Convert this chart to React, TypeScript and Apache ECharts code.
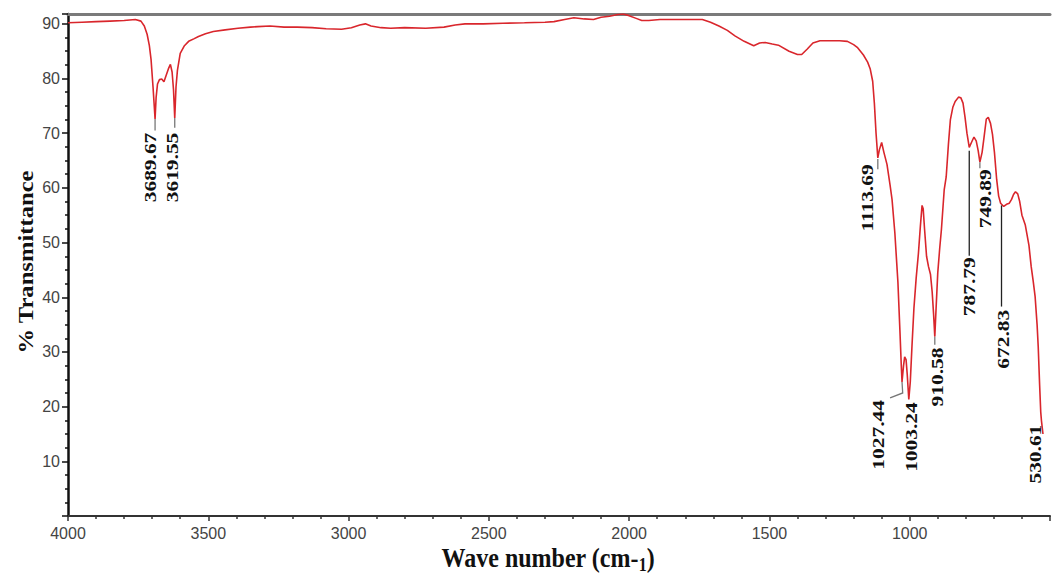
import React, { useEffect, useRef } from 'react';
import * as echarts from 'echarts';

// ---- Spectrum data (wavenumber cm-1, % transmittance) ----
const wavenumbers = [
  4000, 3950, 3900, 3850, 3800, 3760, 3740, 3728, 3718, 3710, 3704, 3697, 3692, 3689.67, 3686, 3681,
  3674, 3666, 3658, 3650, 3642, 3635, 3629, 3624, 3619.55, 3615, 3610, 3600, 3585, 3570, 3550, 3535,
  3510, 3482, 3440, 3394, 3350, 3324, 3280, 3230, 3183, 3130, 3080, 3025, 2990, 2960, 2940, 2920,
  2884, 2850, 2800, 2725, 2660, 2620, 2585, 2520, 2450, 2373, 2300, 2268, 2230, 2197, 2160, 2127,
  2100, 2070, 2040, 2021, 2000, 1975, 1955, 1930, 1890, 1845, 1790, 1739, 1710, 1680, 1650, 1623,
  1590, 1556, 1535, 1515, 1490, 1468, 1430, 1400, 1385, 1365, 1345, 1320, 1280, 1250, 1222, 1200,
  1187, 1165, 1150, 1141, 1132, 1126, 1120, 1113.69, 1108, 1100, 1092, 1081, 1070, 1063, 1053, 1042,
  1035, 1030, 1027.44, 1022, 1018, 1013, 1009, 1003.24, 998, 992, 985, 977, 969, 962, 956, 952,
  947, 940, 933, 926, 920, 915, 910.58, 906, 900, 893, 887, 877, 870, 862, 855, 846,
  838, 826, 818, 810, 803, 796, 787.79, 780, 771, 763, 756, 749.89, 742, 735, 727, 720,
  712, 705, 698, 690, 683, 676, 665, 655, 645, 637, 630, 623, 615, 608, 600, 588,
  575, 567, 560, 553, 546, 542, 537, 533, 530.61, 525,
];
const transmittance = [
  90.2, 90.3, 90.4, 90.5, 90.6, 90.8, 90.5, 89.6, 88.1, 86.0, 83.5, 78.5, 74.5, 72.6, 76.5, 79.0,
  79.8, 79.9, 79.4, 80.6, 81.8, 82.6, 81.2, 78.0, 72.8, 78.5, 81.5, 84.6, 86.0, 86.8, 87.3, 87.7,
  88.2, 88.6, 88.9, 89.2, 89.4, 89.5, 89.6, 89.4, 89.4, 89.3, 89.1, 89.0, 89.3, 89.8, 90.0, 89.6,
  89.3, 89.2, 89.3, 89.2, 89.4, 89.8, 90.0, 90.0, 90.1, 90.2, 90.3, 90.4, 90.8, 91.1, 90.9, 90.8,
  91.2, 91.4, 91.7, 91.8, 91.5, 91.0, 90.6, 90.6, 90.8, 90.8, 90.8, 90.8, 90.3, 89.6, 88.8, 87.8,
  86.8, 86.0, 86.5, 86.6, 86.3, 86.1, 85.0, 84.4, 84.4, 85.4, 86.5, 86.9, 86.9, 86.9, 86.8, 86.2,
  85.7, 84.3, 83.0, 81.8, 79.5, 75.5, 70.0, 65.5, 67.0, 68.3, 66.5, 64.3, 60.5, 57.9, 51.8, 42.7,
  34.0, 27.5, 24.5, 27.5, 29.1, 28.6, 26.0, 21.3, 24.5, 31.0, 38.0, 43.5, 48.0, 53.0, 56.8, 56.2,
  52.4, 47.5, 45.6, 44.2, 41.0, 37.0, 32.8, 38.0, 44.5, 49.0, 52.4, 59.7, 62.0, 68.0, 72.5, 74.8,
  75.8, 76.6, 76.5, 75.5, 73.0, 70.0, 67.4, 68.3, 69.3, 68.6, 66.8, 64.7, 66.5, 69.3, 72.6, 72.9,
  71.8, 69.8, 66.5, 61.5, 58.5, 57.2, 56.6, 57.0, 57.2, 57.9, 58.8, 59.3, 58.9, 57.5, 55.0, 53.2,
  49.5, 45.6, 43.0, 40.1, 35.0, 31.0, 24.0, 19.0, 17.5, 15.0,
];

// ---- Peak annotations ----
const peakLabels = ['3689.67', '3619.55', '1113.69', '1027.44', '1003.24', '910.58', '787.79', '749.89', '672.83', '530.61'];
// leader lines, in data units [wavenumber, %T]
const peakLeaders: number[][][] = [
  [[3689.67, 72.6], [3689.67, 70.5]],
  [[3619.55, 72.8], [3619.55, 71.0]],
  [[1113.69, 65.3], [1113.69, 63.4]],
  [[1027.44, 24.5], [1025, 22.5], [1070, 21.6]],
  [],
  [[910.58, 32.8], [910.58, 31.3]],
  [[787.79, 66.8], [787.79, 47.6]],
  [[749.89, 64.7], [749.89, 63.6]],
  [[672.83, 56.8], [672.83, 38.3]],
  [],
];
// label anchor (top of the rotated text), in data units
const peakLabelAnchors = [
  [3708, 70.1], [3627, 70.1], [1151, 64.3], [1113, 21.2], [993, 20.8],
  [901, 30.8], [789, 47.3], [729, 63.4], [665, 37.7], [553, 16.7],
];

const xMin = 500;
const xMax = 4000;
const yMin = 0;
const yMax = 91.8;

export default function App() {
  const ref = useRef<HTMLDivElement>(null);
  useEffect(() => {
    if (!ref.current) return;
    const chart = echarts.init(ref.current, undefined, { renderer: 'svg' });
    const serif = '"Liberation Serif", "Times New Roman", serif';
    const sans = '"Liberation Sans", Arial, sans-serif';
    const option: any = {
      animation: false,
      backgroundColor: '#ffffff',
      grid: { left: 68, right: -9, top: 14, bottom: 61, containLabel: false },
      xAxis: [
        {
          type: 'value', min: xMin, max: xMax, interval: 500, inverse: true,
          axisLine: { show: true, onZero: false, lineStyle: { color: '#333', width: 2 } },
          axisTick: { show: true, length: 5, lineStyle: { color: '#333', width: 1.5 } },
          minorTick: { show: true, splitNumber: 5, length: 3, lineStyle: { color: '#333', width: 1.5 } },
          splitLine: { show: false },
          axisLabel: {
            color: '#444', fontSize: 16, fontFamily: sans, margin: 9,
            formatter: (v: number) => (v < 1000 ? '' : String(v)),
          },
        },
        {
          type: 'value', position: 'top', min: xMin, max: xMax, inverse: true,
          axisLine: { show: true, onZero: false, lineStyle: { color: '#7a7a7a', width: 3 } },
          axisTick: { show: false }, axisLabel: { show: false }, splitLine: { show: false },
        },
      ],
      yAxis: {
        type: 'value', min: yMin, max: yMax, interval: 10,
        axisLine: { show: true, onZero: false, lineStyle: { color: '#111', width: 2.5 } },
        axisTick: { show: true, length: 6, lineStyle: { color: '#111', width: 1.5 } },
        minorTick: { show: true, splitNumber: 4, length: 3, lineStyle: { color: '#111', width: 1.5 } },
        splitLine: { show: false },
        axisLabel: {
          color: '#444', fontSize: 16, fontFamily: sans, margin: 8,
          formatter: (v: number) => (v > 0 && Math.abs(v % 10) < 1e-6 ? String(v) : ''),
        },
      },
      graphic: [
        {
          type: 'text', x: 25, y: 262, rotation: Math.PI / 2, scaleX: 1.12,
          style: { text: '% Transmittance', font: `bold 22px ${serif}`, fill: '#111', align: 'center', verticalAlign: 'middle' },
        },
        {
          type: 'text', x: 548, y: 558, scaleY: 1.15,
          style: {
            text: '{a|Wave number (cm-}{b|1}{a|)}',
            align: 'center', verticalAlign: 'middle',
            rich: {
              a: { fontSize: 24, fontWeight: 'bold', fontFamily: serif, fill: '#111', lineHeight: 28 },
              b: { fontSize: 16, fontWeight: 'bold', fontFamily: serif, fill: '#111', lineHeight: 24, verticalAlign: 'bottom' },
            },
          },
        },
      ],
      series: [
        {
          type: 'line',
          data: wavenumbers.map((w, i) => [w, transmittance[i]]),
          showSymbol: false, symbol: 'none',
          lineStyle: { color: '#d9262c', width: 1.6 },
          clip: true, z: 2, silent: true,
        },
        {
          type: 'custom',
          silent: true, z: 3,
          data: peakLabelAnchors.map((a, i) => [a[0], a[1], i]),
          renderItem: (_params: any, api: any) => {
            const i = api.value(2) as number;
            const children: any[] = [];
            const leader = peakLeaders[i];
            if (leader.length >= 2) {
              const span = Math.abs(leader[0][1] - leader[leader.length - 1][1]);
              children.push({
                type: 'polyline',
                shape: { points: leader.map((p) => api.coord(p)) },
                style: { stroke: span > 5 ? '#222' : '#777', lineWidth: 1.3, fill: 'none' },
              });
            }
            const pt = api.coord([api.value(0), api.value(1)]);
            children.push({
              type: 'text', x: pt[0], y: pt[1], rotation: Math.PI / 2, scaleX: 1.26,
              style: { text: peakLabels[i], fill: '#111', font: `bold 17px ${serif}`, align: 'right', verticalAlign: 'middle' },
            });
            return { type: 'group', children };
          },
        },
      ],
    };
    chart.setOption(option);
    return () => chart.dispose();
  }, []);
  return (
    <div
      ref={ref}
      style={{ position: 'fixed', left: 0, top: 0, width: 1053, height: 577, background: '#fff' }}
    />
  );
}
